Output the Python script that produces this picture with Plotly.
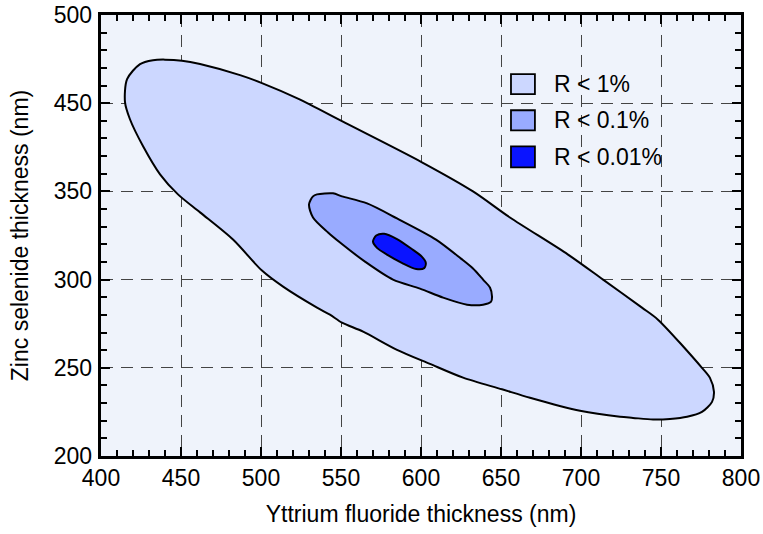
import plotly.graph_objects as go

# Reflectance contour boundaries (YF3 thickness, ZnSe thickness) in nm
r1_yf3 = [415.0, 416.3, 424.4, 432.5, 440.0, 450.6, 461.9, 486.9, 500.6, 523.8,
          550.6, 600.6, 632.5, 655.6, 691.9, 713.8, 738.1, 748.1, 775.6, 780.6,
          783.1, 781.9, 775.6, 766.3, 755.6, 745.0, 732.5, 724.4, 699.4, 668.1,
          650.6, 626.3, 605.6, 585.0, 563.8, 550.6, 543.1, 535.0, 513.8, 500.6,
          482.5, 461.9, 448.1, 436.9, 426.3, 418.1, 415.0]
r1_znse = [400.6, 413.6, 422.2, 424.4, 424.7, 424.1, 422.2, 415.9, 411.4, 402.3,
           389.8, 366.5, 350.0, 335.2, 314.2, 300.0, 284.1, 277.3, 250.0, 244.3,
           236.4, 230.7, 225.0, 222.2, 221.0, 220.7, 221.6, 222.2, 225.6, 233.0,
           237.8, 244.4, 252.2, 260.2, 270.5, 275.6, 280.1, 284.1, 296.0, 305.1,
           322.7, 338.1, 348.3, 359.7, 375.6, 390.9, 400.6]

r01_yf3 = [530.0, 532.5, 535.0, 545.0, 550.6, 566.3, 585.0, 609.4, 625.0, 632.5,
           638.8, 643.1, 644.4, 643.8, 638.8, 628.8, 613.8, 599.4, 582.5, 565.0,
           549.4, 541.9, 532.5, 530.0]
r01_znse = [342.6, 347.2, 348.3, 348.9, 347.2, 343.2, 334.7, 322.7, 311.9, 306.3,
            300.0, 295.5, 290.3, 287.5, 285.8, 285.8, 289.8, 294.9, 300.0, 310.2,
            321.0, 326.7, 335.2, 342.6]

r001_yf3 = [570.0, 572.0, 577.0, 585.0, 594.0, 600.5, 603.0, 602.0, 597.0, 588.0,
            579.0, 572.5, 570.0]
r001_znse = [321.5, 325.0, 326.0, 323.0, 317.5, 313.0, 309.5, 306.5, 306.0, 309.5,
             314.0, 318.0, 321.5]

y_ticks = [200, 250, 300, 350, 400, 450]
y_tick_text = ["200", "250", "300", "350", "450", "500"]

levels = ["R < 1%", "R < 0.1%", "R < 0.01%"]
fills = ["#ccd7ff", "#99abff", "#0a14ff"]

FONT = "Liberation Sans, Arial, sans-serif"
TICKFONT = dict(family=FONT, size=23, color="black")

fig = go.Figure()
for xs, ys, col, name in [(r1_yf3, r1_znse, fills[0], levels[0]),
                          (r01_yf3, r01_znse, fills[1], levels[1]),
                          (r001_yf3, r001_znse, fills[2], levels[2])]:
    fig.add_trace(go.Scatter(x=xs, y=ys, mode="lines", fill="toself",
                             fillcolor=col,
                             line=dict(color="black", width=2, shape="spline",
                                       smoothing=0.8),
                             name=name, showlegend=False, hoverinfo="skip"))

# empty trace so the labelled y axis is drawn
fig.add_trace(go.Scatter(x=[None], y=[None], yaxis="y2", mode="lines",
                         showlegend=False, hoverinfo="skip"))

# Legend drawn as boxes with labels in paper coordinates
box_x0, box_x1 = 0.6406, 0.678
box_rows = [(0.8205, 0.866), (0.7386, 0.784), (0.6545, 0.702)]
for (y0, y1), col, name in zip(box_rows, fills, levels):
    fig.add_shape(type="rect", xref="paper", yref="paper",
                  x0=box_x0, x1=box_x1, y0=y0, y1=y1,
                  fillcolor=col, line=dict(color="black", width=1.8))
    fig.add_annotation(xref="paper", yref="paper", x=0.705, y=(y0 + y1) / 2,
                       text=name, showarrow=False, xanchor="left", yanchor="middle",
                       font=dict(family=FONT, size=23, color="black"))

frame = dict(
    showline=True, linecolor="black", linewidth=2.5, mirror="ticks",
    ticks="inside", ticklen=9, tickwidth=2, tickcolor="black",
    showgrid=True, gridcolor="#444444", gridwidth=1.2, griddash="12px,8px",
    zeroline=False,
)
minor_ticks = dict(ticks="inside", ticklen=6, tickwidth=2, tickcolor="black",
                   showgrid=False)

fig.update_layout(
    xaxis=dict(
        range=[400, 800], tickmode="linear", tick0=400, dtick=50,
        minor=dict(tick0=400, dtick=10, **minor_ticks),
        tickfont=TICKFONT,
        title=dict(text="Yttrium fluoride thickness (nm)",
                   font=dict(family=FONT, size=23, color="black"), standoff=16),
        **frame,
    ),
    # frame axis: ticks, minor ticks and grid
    yaxis=dict(
        range=[200, 450], tickmode="linear", tick0=200, dtick=50,
        minor=dict(tick0=200, dtick=10, **minor_ticks),
        showticklabels=False,
        **frame,
    ),
    # label axis: tick labels and title
    yaxis2=dict(
        overlaying="y", side="left", range=[200, 450],
        tickmode="array", tickvals=y_ticks, ticktext=y_tick_text,
        ticks="", showgrid=False, zeroline=False, showline=False,
        tickfont=TICKFONT, ticklabelstandoff=8,
        title=dict(text="Zinc selenide thickness (nm)",
                   font=dict(family=FONT, size=23, color="black"), standoff=18),
    ),
    width=763, height=534,
    margin=dict(l=101, r=22, t=15, b=78, autoexpand=False),
    paper_bgcolor="white", plot_bgcolor="#eff3fb",
    showlegend=False,
)

fig.write_html("out.html")
